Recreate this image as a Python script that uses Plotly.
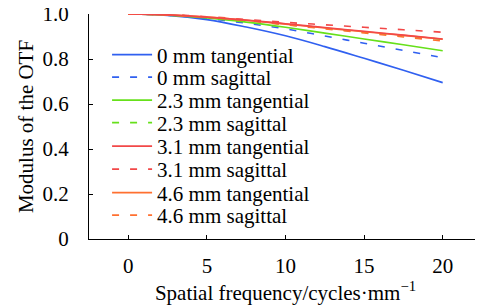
import plotly.graph_objects as go

freq = [0, 2.5, 5, 7.5, 10, 12.5, 15, 17.5, 20]

mtf_0_t = [1.0, 0.994, 0.975, 0.942, 0.903, 0.855, 0.803, 0.750, 0.695]
mtf_0_s = [1.0, 0.995, 0.980, 0.959, 0.934, 0.902, 0.870, 0.838, 0.806]
mtf_23_t = [1.0, 0.995, 0.983, 0.964, 0.941, 0.915, 0.889, 0.863, 0.837]
mtf_23_s = [1.0, 0.996, 0.986, 0.971, 0.953, 0.936, 0.919, 0.903, 0.887]
mtf_31_t = [1.0, 0.996, 0.986, 0.973, 0.957, 0.940, 0.923, 0.906, 0.889]
mtf_31_s = [1.0, 0.997, 0.988, 0.976, 0.963, 0.952, 0.941, 0.930, 0.919]
mtf_46_t = [1.0, 0.996, 0.986, 0.972, 0.955, 0.938, 0.921, 0.905, 0.888]
mtf_46_s = [1.0, 0.996, 0.986, 0.971, 0.952, 0.934, 0.916, 0.898, 0.880]

names = ["0 mm tangential", "0 mm sagittal", "2.3 mm tangential", "2.3 mm sagittal",
         "3.1 mm tangential", "3.1 mm sagittal", "4.6 mm tangential", "4.6 mm sagittal"]
series = [mtf_0_t, mtf_0_s, mtf_23_t, mtf_23_s, mtf_31_t, mtf_31_s, mtf_46_t, mtf_46_s]
colors = ["#3060f0", "#3060f0", "#66e01a", "#66e01a", "#f24848", "#f24848", "#ff7030", "#ff7030"]
dashes = ["solid", "7px,11px"] * 4

x_ticks = [0, 5, 10, 15, 20]
y_ticks = [0, 0.2, 0.4, 0.6, 0.8, 1.0]
y_labels = ["0", "0.2", "0.4", "0.6", "0.8", "1.0"]

FONT = "Liberation Serif, Times New Roman, serif"
FS = 21

fig = go.Figure()
order = [0, 1, 2, 3, 7, 5, 6, 4]
for i in order:
    fig.add_trace(go.Scatter(
        x=freq, y=series[i], mode="lines", name=names[i],
        line=dict(color=colors[i], width=1.6, dash=dashes[i], shape="spline"),
        legend="legend" if i == 0 else f"legend{i+1}",
    ))

OFF = 8  # page body margin
W, H = 483 - OFF, 307 - OFF
ml, mr, mt, mb = 89 - OFF, 1, 14 - OFF, 68
ph = H - mt - mb
row_px = [55, 77.5, 100.5, 123, 146.5, 169.5, 193, 215.5]
layout_legends = {}
for i, yc in enumerate(row_px):
    key = "legend" if i == 0 else f"legend{i+1}"
    layout_legends[key] = dict(
        x=0.046, y=1 - (yc - 14) / ph, xanchor="left", yanchor="middle",
        bgcolor="rgba(0,0,0,0)", borderwidth=0,
        font=dict(family=FONT, size=FS, color="black"),
        itemwidth=40,
    )

fig.update_layout(
    width=W, height=H,
    margin=dict(l=ml, r=mr, t=mt, b=mb, autoexpand=False),
    paper_bgcolor="white", plot_bgcolor="white",
    font=dict(family=FONT, size=FS, color="black"),
    showlegend=True,
    **layout_legends,
)
fig.update_xaxes(
    range=[-2.5, 22.5], tickvals=x_ticks, ticks="inside", ticklen=4, tickcolor="black",
    showline=True, linecolor="black", linewidth=1, showgrid=False, zeroline=False,
    tickfont=dict(family=FONT, size=FS), ticklabelstandoff=8, automargin=False,
    ticklabeloverflow="allow",
    title=dict(text="Spatial frequency/cycles·mm<sup>−1</sup>", font=dict(family=FONT, size=FS), standoff=4),
)
fig.update_yaxes(
    range=[0, 1.0], tickvals=y_ticks, ticktext=y_labels, ticks="inside", ticklen=4, tickcolor="black",
    showline=True, linecolor="black", linewidth=1, showgrid=False, zeroline=False,
    tickfont=dict(family=FONT, size=FS), ticklabelstandoff=15, automargin=False,
    ticklabeloverflow="allow",
    title=dict(text="Modulus of the OTF", font=dict(family=FONT, size=FS), standoff=3),
)

fig.write_html("out.html")
